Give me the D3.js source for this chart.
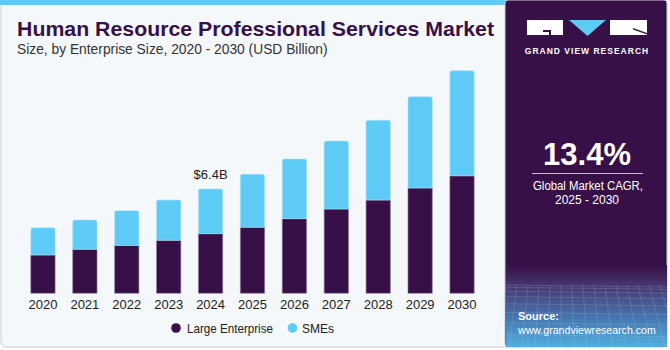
<!DOCTYPE html>
<html>
<head>
<meta charset="utf-8">
<script src="https://cdn.jsdelivr.net/npm/d3@7"></script>
<style>
  body { margin: 0; background: #ffffff; }
  svg { display: block; font-family: "Liberation Sans", Arial, sans-serif; }
</style>
</head>
<body>
<div id="chart"></div>
<script>
// values (USD Billion)
let years = ["2020", "2021", "2022", "2023", "2024", "2025", "2026", "2027", "2028", "2029", "2030"];
let largeEnterprise = [2.35, 2.70, 2.94, 3.25, 3.66, 4.05, 4.58, 5.17, 5.72, 6.46, 7.21];
let smes = [1.67, 1.80, 2.13, 2.47, 2.74, 3.25, 3.66, 4.17, 4.89, 5.60, 6.45];
let seriesNames = ["Large Enterprise", "SMEs"];
let seriesColors = ["#371047", "#5ecbf7"];

let width = 670, height = 350;
let svg = d3.select("#chart").append("svg")
    .attr("width", width)
    .attr("height", height);

let defs = svg.append("defs");

// left panel
svg.append("rect")
    .attr("x", 1).attr("y", 2)
    .attr("width", 520).attr("height", 345)
    .attr("rx", 5)
    .attr("fill", "#f4f8fb")
    .attr("stroke", "#c9ccd0");
svg.append("rect")
    .attr("x", 0).attr("y", 0)
    .attr("width", 506).attr("height", 5)
    .attr("fill", "#5ecbf5");

// right panel
svg.append("rect")
    .attr("x", 505).attr("y", 0)
    .attr("width", 162).attr("height", 347)
    .attr("rx", 3)
    .attr("fill", "#371047")
    .attr("stroke", "#c9ccd0");

let grad = defs.append("linearGradient")
    .attr("id", "bottomGrad")
    .attr("x1", 0).attr("y1", 0).attr("x2", 0).attr("y2", 1);
grad.append("stop").attr("offset", "0%").attr("stop-color", "#371047");
grad.append("stop").attr("offset", "25%").attr("stop-color", "#48366f");
grad.append("stop").attr("offset", "70%").attr("stop-color", "#4680b8");
grad.append("stop").attr("offset", "100%").attr("stop-color", "#52aee0");

svg.append("rect")
    .attr("x", 506).attr("y", 265)
    .attr("width", 161).attr("height", 82)
    .attr("fill", "url(#bottomGrad)");

// faint grid at the panel foot
let gridG = svg.append("g")
    .attr("stroke", "#b9d4ee")
    .attr("stroke-opacity", 0.3)
    .attr("stroke-width", 0.6);
d3.range(0, 16).forEach(i => {
    gridG.append("line")
        .attr("x1", 506 + i * 11).attr("y1", 285)
        .attr("x2", 496 + i * 13).attr("y2", 347);
});
d3.range(0, 9).forEach(i => {
    let yy = 285 + i * i * 0.8 + i * 1.5;
    gridG.append("line")
        .attr("x1", 506).attr("y1", yy)
        .attr("x2", 667).attr("y2", yy + 2);
});

// logo
let logo = svg.append("g");
logo.append("rect").attr("x", 527).attr("y", 20).attr("width", 36).attr("height", 15).attr("fill", "#ffffff");
logo.append("path").attr("d", "M543,30 H551 V35 H549 V32 H543 Z").attr("fill", "#371047");
logo.append("path").attr("d", "M569,20 L606,20 L587.5,36 Z").attr("fill", "#5ecbf5");
logo.append("rect").attr("x", 610).attr("y", 20).attr("width", 37).attr("height", 15).attr("fill", "#ffffff");
logo.append("path").attr("d", "M633,28 L647,33 L647,34.5 L633,29.5 Z").attr("fill", "#371047");
logo.append("text")
    .attr("x", 587).attr("y", 54)
    .attr("text-anchor", "middle")
    .attr("fill", "#ffffff")
    .attr("font-size", 8.5)
    .attr("font-weight", "bold")
    .attr("letter-spacing", 1)
    .text("GRAND VIEW RESEARCH");

// CAGR block
svg.append("text")
    .attr("x", 587).attr("y", 165)
    .attr("text-anchor", "middle")
    .attr("fill", "#ffffff")
    .attr("font-size", 31)
    .attr("font-weight", "bold")
    .text("13.4%");
svg.append("line")
    .attr("x1", 532).attr("x2", 643)
    .attr("y1", 173.5).attr("y2", 173.5)
    .attr("stroke", "#c8bcd4").attr("stroke-width", 1);
svg.append("text")
    .attr("x", 588).attr("y", 190)
    .attr("text-anchor", "middle")
    .attr("fill", "#ffffff")
    .attr("font-size", 12.5)
    .attr("textLength", 110)
    .attr("lengthAdjust", "spacingAndGlyphs")
    .text("Global Market CAGR,");
svg.append("text")
    .attr("x", 587).attr("y", 204)
    .attr("text-anchor", "middle")
    .attr("fill", "#ffffff")
    .attr("font-size", 12.5)
    .attr("textLength", 64)
    .attr("lengthAdjust", "spacingAndGlyphs")
    .text("2025 - 2030");

// source
svg.append("text")
    .attr("x", 518).attr("y", 320)
    .attr("fill", "#ffffff")
    .attr("font-size", 11)
    .attr("font-weight", "bold")
    .text("Source:");
svg.append("text")
    .attr("x", 518).attr("y", 334)
    .attr("fill", "#ffffff")
    .attr("font-size", 10.6)
    .text("www.grandviewresearch.com");

// titles
svg.append("text")
    .attr("x", 17).attr("y", 36)
    .attr("fill", "#371047")
    .attr("font-size", 20.5)
    .attr("font-weight", "bold")
    .attr("textLength", 477)
    .attr("lengthAdjust", "spacingAndGlyphs")
    .text("Human Resource Professional Services Market");
svg.append("text")
    .attr("x", 17).attr("y", 54)
    .attr("fill", "#333333")
    .attr("font-size", 13.8)
    .text("Size, by Enterprise Size, 2020 - 2030 (USD Billion)");

// scales
let x = d3.scaleBand()
    .domain(years)
    .range([22, 483])
    .paddingInner(0.42)
    .paddingOuter(0.21);

let y = d3.scaleLinear()
    .domain([0, 16])
    .range([293.3, 32.5]);

let table = years.map((yr, i) => ({ year: yr, "Large Enterprise": largeEnterprise[i], "SMEs": smes[i] }));
let stacked = d3.stack().keys(seriesNames)(table);

let bars = svg.append("g");
stacked.forEach((layer, li) => {
    bars.selectAll(".bar-" + li)
        .data(layer)
        .enter()
        .append("path")
        .attr("class", "bar-" + li)
        .attr("fill", seriesColors[li])
        .attr("stroke", li === 0 ? "#8e7aa0" : "#a8e2fb")
        .attr("stroke-width", 0.6)
        .attr("d", d => {
            let x0 = x(d.data.year), w = x.bandwidth();
            let top = y(d[1]), bot = y(d[0]);
            if (li === seriesNames.length - 1) {
                let r = 2;
                return `M${x0},${bot} V${top + r} Q${x0},${top} ${x0 + r},${top} H${x0 + w - r} Q${x0 + w},${top} ${x0 + w},${top + r} V${bot} Z`;
            }
            return `M${x0},${bot} V${top} H${x0 + w} V${bot} Z`;
        });
});

// x axis labels
let xAxis = d3.axisBottom(x).tickSize(0).tickPadding(6);
let axisG = svg.append("g")
    .attr("transform", `translate(0,${y(0)})`)
    .call(xAxis);
axisG.select(".domain").remove();
axisG.selectAll("text")
    .attr("font-family", "Liberation Sans, Arial, sans-serif")
    .attr("font-size", 13)
    .attr("fill", "#222222");

// annotation
let annIdx = years.indexOf("2024");
svg.append("text")
    .attr("x", x("2024") + x.bandwidth() / 2)
    .attr("y", y(largeEnterprise[annIdx] + smes[annIdx]) - 10)
    .attr("text-anchor", "middle")
    .attr("fill", "#222222")
    .attr("font-size", 13)
    .text("$6.4B");

// legend
let legendItems = [
    { name: seriesNames[0], cx: 176, tx: 187, len: 86 },
    { name: seriesNames[1], cx: 292.5, tx: 302, len: 32 }
];
let legend = svg.append("g");
legendItems.forEach((it, i) => {
    legend.append("circle")
        .attr("cx", it.cx).attr("cy", 328)
        .attr("r", 4.8)
        .attr("fill", seriesColors[i]);
    legend.append("text")
        .attr("x", it.tx).attr("y", 332.5)
        .attr("fill", "#222222")
        .attr("font-size", 13)
        .attr("textLength", it.len)
        .attr("lengthAdjust", "spacingAndGlyphs")
        .text(it.name);
});
</script>
</body>
</html>
